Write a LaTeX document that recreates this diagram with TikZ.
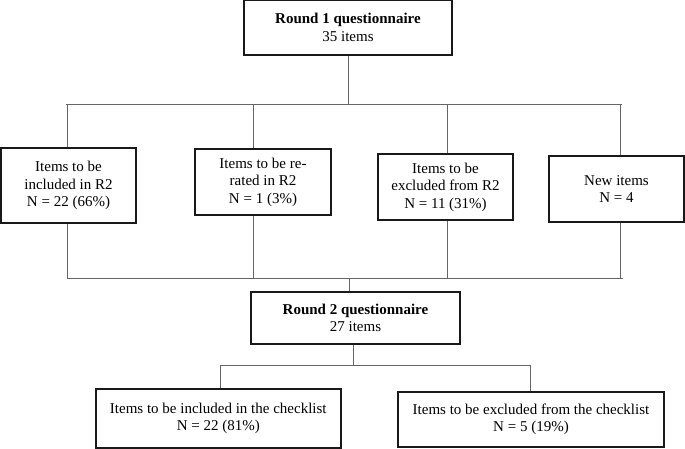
\documentclass[tikz,border=0pt]{standalone}
\usepackage{fontspec}
\setmainfont{Liberation Serif}
\begin{document}
\begin{tikzpicture}[x=1pt,y=-1pt,
	box/.style={draw=black!90, line width=1.6pt, fill=white, align=center, inner sep=0pt, font=\fontsize{15}{17.5}\selectfont},
	conn/.style={draw=black!60, line width=1pt}]
	\useasboundingbox (0,0) rectangle (685,449);
	% boxes
	\node[box, minimum width=208, minimum height=55] at (348,27.5) (r1) {\textbf{Round 1 questionnaire}\\35 items};
	\node[box, minimum width=135, minimum height=75] at (68.5,185.5) (inc) {Items to be\\included in R2\\N = 22 (66\%)};
	\node[box, minimum width=136, minimum height=66] at (263,182) (rer) {Items to be re-\\rated in R2\\N = 1 (3\%)};
	\node[box, minimum width=135, minimum height=66] at (445.5,187) (exc) {Items to be\\excluded from R2\\N = 11 (31\%)};
	\node[box, minimum width=135, minimum height=66] at (616.5,189) (new) {New items\\N = 4};
	\node[box, minimum width=209, minimum height=52] at (355.5,318) (r2) {\textbf{Round 2 questionnaire}\\27 items};
	\node[box, minimum width=245, minimum height=59] at (218.3,418.5) (chkin) {Items to be included in the checklist\\N = 22 (81\%)};
	\node[box, minimum width=266, minimum height=55] at (531,419.5) (chkout) {Items to be excluded from the checklist\\N = 5 (19\%)};
	
	% bus points
	\coordinate (t0) at (66,105);
	\coordinate (t1) at (67,105);
	\coordinate (t2) at (253,105);
	\coordinate (t3) at (447,105);
	\coordinate (t4) at (620,105);
	\coordinate (t5) at (622,105);
	\coordinate (b1) at (67,278);
	\coordinate (b2) at (253,278);
	\coordinate (b3) at (447,278);
	\coordinate (b4) at (620,278);
	\coordinate (b5) at (623,278);
	\coordinate (m0) at (349,278);
	\coordinate (c0) at (353,365);
	\coordinate (c1) at (220,365);
	\coordinate (c2) at (530,365);
	
	\draw[conn] (r1) -- (r1 |- t0);
	\draw[conn] (t0) -- (t5);
	\draw[conn] (t1) -- (t1 |- inc.north)
		(t2) -- (t2 |- rer.north)
		(t3) -- (t3 |- exc.north)
		(t4) -- (t4 |- new.north);
	\draw[conn] (b1 |- inc.south) -- (b1)
		(b2 |- rer.south) -- (b2)
		(b3 |- exc.south) -- (b3)
		(b4 |- new.south) -- (b4);
	\draw[conn] (b1) -- (b5);
	\draw[conn] (m0) -- (m0 |- r2.north);
	\draw[conn] (c0 |- r2.south) -- (c0);
	\draw[conn] (c1) -- (c2);
	\draw[conn] (c1) -- (c1 |- chkin.north)
		(c2) -- (c2 |- chkout.north);
\end{tikzpicture}
\end{document}
